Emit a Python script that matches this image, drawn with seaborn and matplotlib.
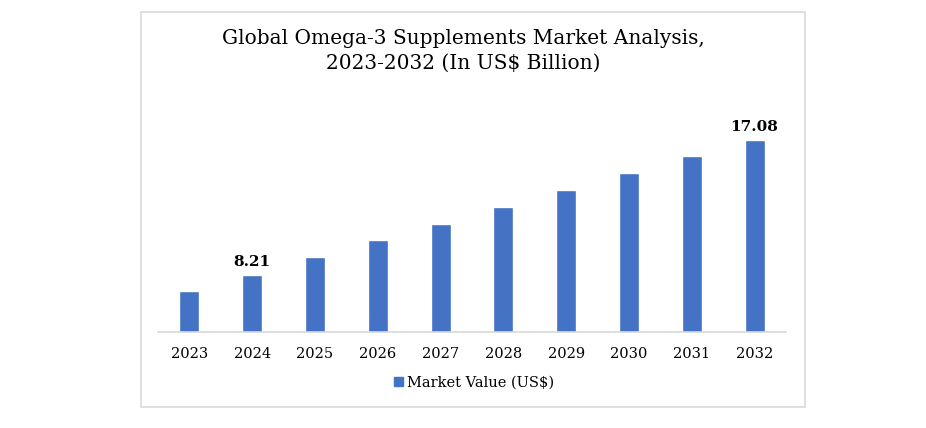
import matplotlib
matplotlib.use("Agg")
import matplotlib.pyplot as plt
import matplotlib.patches as mpatches
import pandas as pd
import seaborn as sns

# valeurs
years = ["2023", "2024", "2025", "2026", "2027", "2028", "2029", "2030", "2031", "2032"]
market_value = [7.16, 8.21, 9.39, 10.46, 11.56, 12.66, 13.75, 14.91, 15.98, 17.08]
labelled = {"2024": "8.21", "2032": "17.08"}

df = pd.DataFrame({"Year": years, "Value": market_value})

sns.set_theme(style="white")
plt.rcParams["font.family"] = ["DejaVu Serif"]
plt.rcParams["text.color"] = "black"

fig = plt.figure(figsize=(9.26, 4.28), dpi=100)
W, H = 926, 428

# cadre gris autour du graphique
fig.patches.append(mpatches.Rectangle((141 / W, 1 - 407 / H), 664 / W, 395 / H,
                                      transform=fig.transFigure, fill=False,
                                      edgecolor="#D9D9D9", linewidth=1.2))

ax = fig.add_axes([158 / W, 1 - 332 / H, 628 / W, 222 / H])
sns.barplot(data=df, x="Year", y="Value", color="#4472C4", width=0.32,
            saturation=1, ax=ax)

ax.set_ylim(4.445, 19.03)
ax.set_xlim(-0.5, len(years) - 0.5)
ax.set_yticks([])
ax.set_xlabel("")
ax.set_ylabel("")
for s in ["top", "right", "left"]:
    ax.spines[s].set_visible(False)
ax.spines["bottom"].set_color("#D9D9D9")
ax.spines["bottom"].set_linewidth(1.2)
ax.tick_params(axis="x", length=0, pad=11, labelsize=10.5, colors="black")

for i, y in enumerate(years):
    if y in labelled:
        ax.text(i, market_value[i] + 0.35, labelled[y], ha="center", va="bottom",
                fontsize=11, fontweight="bold", color="black")

fig.text(0.5, 1 - 51 / H, "Global Omega-3 Supplements Market Analysis,\n2023-2032 (In US$ Billion)",
         ha="center", va="center", fontsize=14.5, linespacing=1.35, color="black")

handle = mpatches.Patch(color="#4472C4", label="Market Value (US$)")
fig.legend(handles=[handle], loc="center", bbox_to_anchor=(474 / W, 1 - 383 / H),
           frameon=False, fontsize=10.5, handlelength=0.6, handleheight=0.6,
           handletextpad=0.3, labelcolor="black")

fig.savefig("out.png", dpi=100)
